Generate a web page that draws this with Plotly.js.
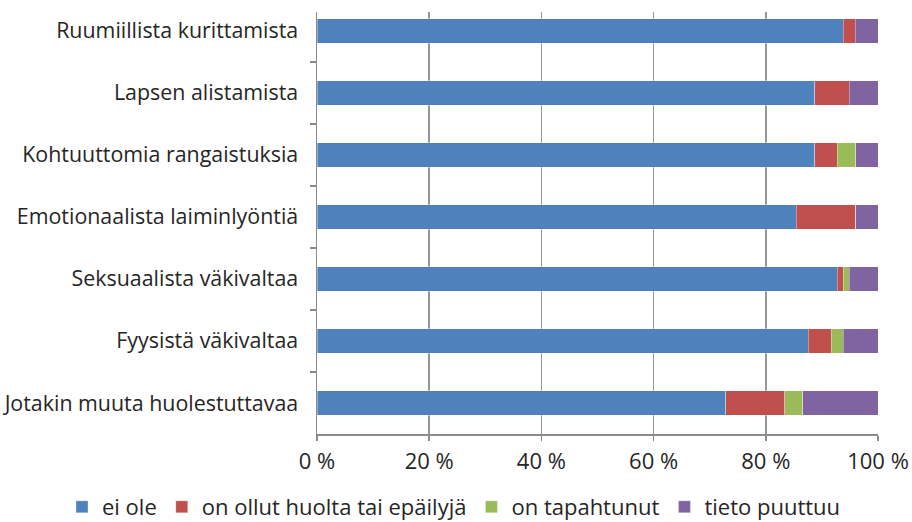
<!DOCTYPE html>
<html>
<head>
<meta charset="utf-8">
<script src="https://cdn.plot.ly/plotly-3.0.1.min.js"></script>
<style>html,body{margin:0;padding:0;background:#fff;}#chart{width:912px;height:522px;}</style>
</head>
<body>
<div id="chart"></div>
<script>
const categories = [
  "Ruumiillista kurittamista",
  "Lapsen alistamista",
  "Kohtuuttomia rangaistuksia",
  "Emotionaalista laiminlyöntiä",
  "Seksuaalista väkivaltaa",
  "Fyysistä väkivaltaa",
  "Jotakin muuta huolestuttavaa"
];
const seriesNames = ["ei ole", "on ollut huolta tai epäilyjä", "on tapahtunut", "tieto puuttuu"];
const eiOle      = [93.8, 88.7, 88.7, 85.4, 92.7, 87.6, 72.9];
const huolta     = [2.1, 6.2, 4.0, 10.6, 1.1, 4.1, 10.5];
const tapahtunut = [0.0, 0.0, 3.3, 0.0, 1.1, 2.1, 3.2];
const puuttuu    = [4.1, 5.1, 4.0, 4.0, 5.1, 6.2, 13.4];
const xTickVals = [0, 20, 40, 60, 80, 100];
const xTickText = ["0 %", "20 %", "40 %", "60 %", "80 %", "100 %"];
const colors = ["#4F81BD", "#C0504D", "#9BBB59", "#8064A2"];

const allSeries = [eiOle, huolta, tapahtunut, puuttuu];
const FONT = "'Open Sans', sans-serif";
const FS = 22;
const traces = allSeries.map((vals, i) => ({
  type: "bar",
  orientation: "h",
  name: seriesNames[i],
  y: categories,
  x: vals,
  marker: {color: colors[i], line: {color: "rgba(255,255,255,0.35)", width: 1}},
  hoverinfo: "x+y+name"
}));

const layout = {
  width: 912, height: 522,
  margin: {l: 317, r: 34, t: 12, b: 88, autoexpand: false},
  barmode: "stack",
  bargap: 0.61,
  paper_bgcolor: "#fff",
  plot_bgcolor: "#fff",
  font: {family: FONT, size: FS, color: "#262626"},
  xaxis: {
    range: [0, 100],
    tickvals: xTickVals,
    ticktext: xTickText,
    showgrid: true,
    gridcolor: "#969696",
    gridwidth: 1.5,
    zeroline: false,
    showline: true,
    linecolor: "#8c8c8c",
    linewidth: 1.5,
    ticks: "outside",
    ticklen: 5,
    tickwidth: 1.5,
    tickcolor: "#8c8c8c",
    ticklabelstandoff: 2,
    tickfont: {family: FONT, size: FS, color: "#262626"},
    fixedrange: true
  },
  yaxis: {
    type: "category",
    categoryorder: "array",
    categoryarray: categories,
    range: [6.5, -0.306],
    showgrid: false,
    zeroline: false,
    showline: true,
    linecolor: "#8c8c8c",
    linewidth: 1.5,
    ticks: "outside",
    tickson: "boundaries",
    ticklen: 6,
    tickwidth: 1.5,
    tickcolor: "#8c8c8c",
    ticklabelstandoff: 13,
    tickfont: {family: FONT, size: 21.4, color: "#262626"},
    fixedrange: true
  },
  legend: {
    orientation: "h",
    x: (62 - 317) / 561, xref: "paper", xanchor: "left",
    y: 1 - (507 - 12) / 422, yref: "paper", yanchor: "middle",
    font: {family: FONT, size: FS, color: "#262626"},
    traceorder: "normal",
    itemwidth: 30,
    bgcolor: "rgba(0,0,0,0)"
  },
  showlegend: true
};

Plotly.newPlot("chart", traces, layout, {displayModeBar: false, staticPlot: true});
</script>
</body>
</html>
